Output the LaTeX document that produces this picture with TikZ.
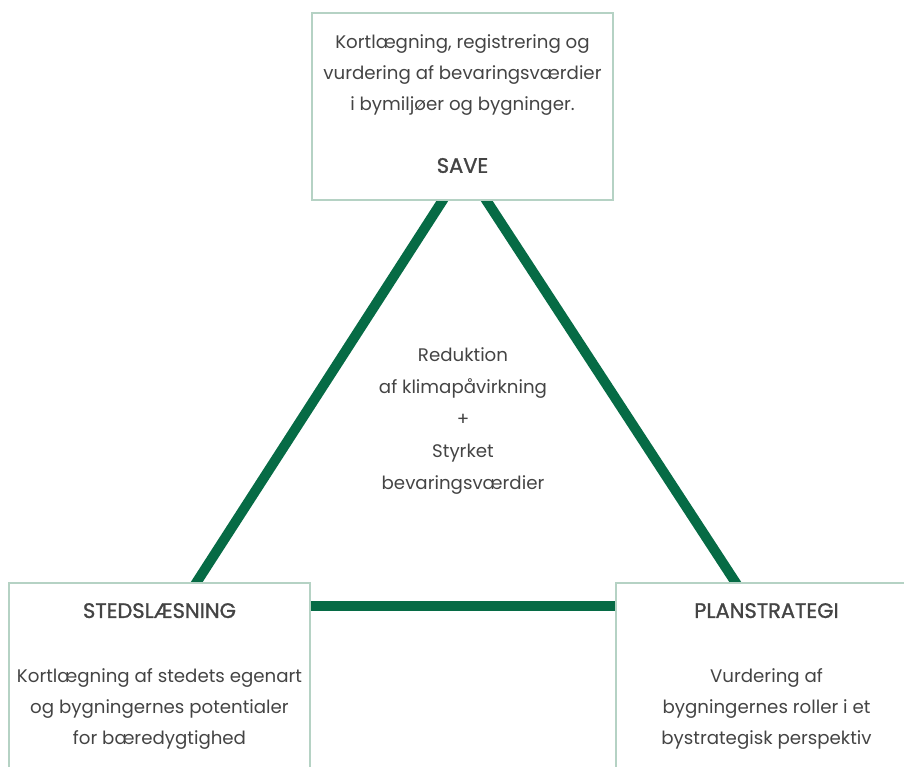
\documentclass[tikz,border=0pt]{standalone}
\usepackage{fontspec}
\setmainfont{Poppins}
\newfontfamily\titrefont[FakeBold=1.2]{Poppins}
\usetikzlibrary{backgrounds}
\definecolor{vert}{HTML}{066B45}
\definecolor{griscadre}{HTML}{B5D2C4}
\definecolor{gristexte}{HTML}{444444}
\begin{document}
\begin{tikzpicture}[x=1pt,y=-1pt]
% Styles
\tikzstyle{cadre}=[draw=griscadre,line width=2.8pt,fill=white,rectangle,minimum width=301pt,inner sep=0pt]
\tikzstyle{lien}=[vert,line width=10pt,shorten <=-8pt,shorten >=-8pt]
\tikzstyle{texte}=[text=gristexte,align=center,inner sep=0pt,font=\fontsize{18.2}{31}\selectfont]
\newcommand\titre[1]{{\titrefont\fontsize{21}{31}\selectfont #1}}
% Dimensions
\def\Lrg{904}
\def\Htr{766}
\def\Hbas{217}
% Cadre de la page
\useasboundingbox (0,0) rectangle (\Lrg,\Htr);
\clip (0,0) rectangle (\Lrg,\Htr);
% Boites
\node[cadre,minimum height=187pt] (save) at (462.5,106.5) {};
\node[cadre,minimum height=\Hbas pt] (sted) at (159.5,691.5) {};
\node[cadre,minimum height=\Hbas pt] (plan) at (766.5,691.5) {};
% Triangle
\begin{scope}[on background layer]
\draw[lien] ([xshift=-20.5pt]save.south) -- ([xshift=37.5pt]sted.north);
\draw[lien] ([xshift=24.5pt]save.south) -- ([xshift=-31.5pt]plan.north);
\draw[lien] ([yshift=85.5pt]sted.east) -- ([yshift=85.5pt]plan.west);
\end{scope}
% Textes
\node[texte] (savetxt) at (462.5,104) {Kortlægning, registrering og\\vurdering af bevaringsværdier\\i bymiljøer og bygninger.\\[31pt]\titre{SAVE}};
\node[texte] (stedtxt) at (159.5,676.5) {\titre{STEDSLÆSNING}\\[34pt]Kortlægning af stedets egenart\\og bygningernes potentialer\\for bæredygtighed};
\node[texte] (plantxt) at (766.5,676.5) {\titre{PLANSTRATEGI}\\[34pt]Vurdering af\\bygningernes roller i et\\bystrategisk perspektiv};
\node[texte,font=\fontsize{18.2}{32}\selectfont] (midt) at (463,421) {Reduktion\\af klimapåvirkning\\+\\Styrket\\bevaringsværdier};
\end{tikzpicture}
\end{document}
